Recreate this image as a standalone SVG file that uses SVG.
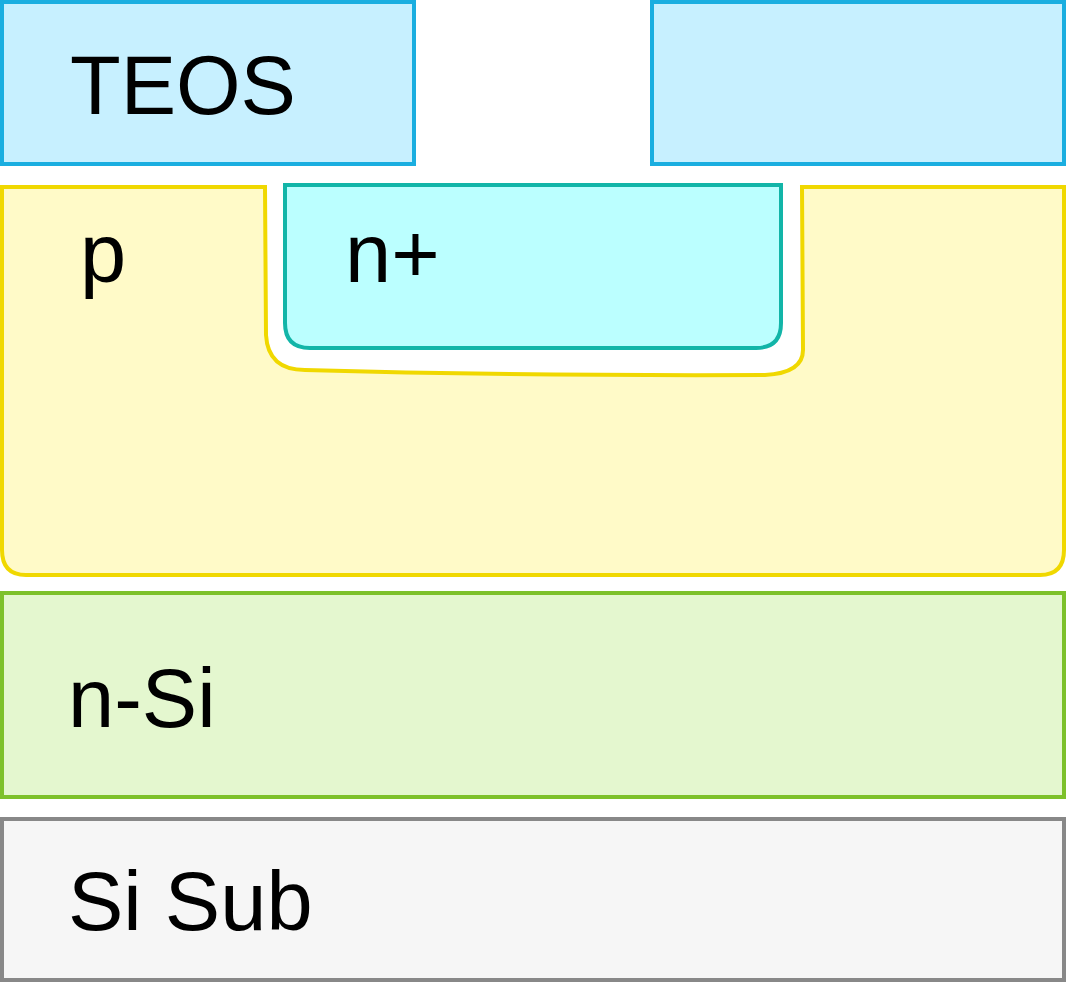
<svg xmlns="http://www.w3.org/2000/svg" width="1067" height="984" viewBox="0 0 1067 984">
<style>
text{font-family:"Liberation Sans",Arial,sans-serif;font-size:83px;fill:#000}
.teos{fill:#c7f0ff;stroke:#1aaee0;stroke-width:4}
</style>
<rect width="1067" height="984" fill="#fff"/>
<g id="teos-left"><rect class="teos" x="2" y="2" width="412" height="162"/><text x="70" y="114">TEOS</text></g>
<g id="teos-right"><rect class="teos" x="652" y="2" width="412" height="162"/></g>
<g id="p-region"><path d="M2,187 L265,187 L266,335 Q268,370 305,370 Q520,376 765,375 Q803,373 803,350 L802,187 L1064,187 L1064,550 Q1064,575 1040,575 L26,575 Q2,575 2,550 Z" fill="#fffac8" stroke="#f0d800" stroke-width="4"/><text x="80" y="282">p</text></g>
<g id="nplus"><path d="M285,185 L781,185 L781,323 Q781,348 756,348 L310,348 Q285,348 285,323 Z" fill="#bbffff" stroke="#12b5a8" stroke-width="4"/><text x="345" y="282">n+</text></g>
<g id="n-si"><rect x="2" y="593" width="1062" height="204" fill="#e4f7cf" stroke="#7dc12b" stroke-width="4"/><text x="68" y="727">n-Si</text></g>
<g id="si-sub"><rect x="2" y="819" width="1062" height="161" fill="#f6f6f6" stroke="#888" stroke-width="4"/><text x="68" y="930">Si Sub</text></g>
<g id="connectors"/>
</svg>
